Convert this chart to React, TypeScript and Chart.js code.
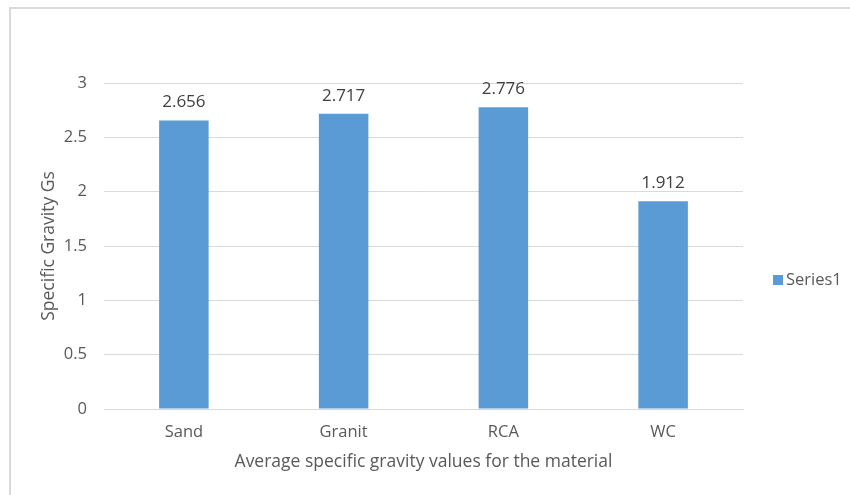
import React, { useEffect, useRef } from "react";
import { Chart, registerables } from "chart.js";

Chart.register(...registerables);

const categories = ["Sand", "Granit", "RCA", "WC"];
const series1 = [2.656, 2.717, 2.776, 1.912];
const seriesName = "Series1";
const yTickValues = [0, 0.5, 1, 1.5, 2, 2.5, 3];
const yTickLabels = ["0", "0.5", "1", "1.5", "2", "2.5", "3"];
const xTitle = "Average specific gravity values for the material";
const yTitle = "Specific Gravity Gs";

const FONT = "'Open Sans', 'Liberation Sans', sans-serif";
const BAR = "#5B9BD5";
const TEXT = "#595959";

// Value labels printed above each bar
const valueLabels = {
  id: "valueLabels",
  afterDatasetsDraw(chart: any) {
    const { ctx } = chart;
    const meta = chart.getDatasetMeta(0);
    const data = chart.data.datasets[0].data as number[];
    ctx.save();
    ctx.font = `17px ${FONT}`;
    ctx.fillStyle = "#404040";
    ctx.textAlign = "center";
    ctx.textBaseline = "middle";
    meta.data.forEach((bar: any, i: number) => {
      ctx.fillText(data[i].toFixed(3), bar.x, bar.y - 18);
    });
    ctx.restore();
  },
};

// Legend drawn to the right of the plot area
const sideLegend = {
  id: "sideLegend",
  afterDraw(chart: any) {
    const { ctx, chartArea } = chart;
    const ds = chart.data.datasets[0];
    const x = chartArea.right + 30;
    const y = 280;
    ctx.save();
    ctx.fillStyle = ds.backgroundColor;
    ctx.fillRect(x, y - 5, 10, 10);
    ctx.font = `16.5px ${FONT}`;
    ctx.fillStyle = TEXT;
    ctx.textAlign = "left";
    ctx.textBaseline = "middle";
    ctx.fillText(ds.label, x + 13, y);
    ctx.restore();
  },
};

export default function App() {
  const ref = useRef<HTMLCanvasElement | null>(null);

  useEffect(() => {
    if (!ref.current) return;
    const chart = new Chart(ref.current, {
      type: "bar",
      data: {
        labels: categories,
        datasets: [
          {
            label: seriesName,
            data: series1,
            backgroundColor: BAR,
            barPercentage: 0.31,
            categoryPercentage: 1,
          },
        ],
      },
      options: {
        animation: false,
        responsive: false,
        maintainAspectRatio: false,
        layout: { padding: { left: 35, right: 107, top: 83, bottom: 18 } },
        plugins: {
          legend: { display: false },
          tooltip: { enabled: false },
        },
        scales: {
          x: {
            afterFit: (s: any) => {
              s.height = 68;
            },
            grid: { display: false, drawTicks: false },
            border: { display: true, color: "#d9d9d9", width: 1 },
            ticks: { color: TEXT, font: { family: FONT, size: 16.5 }, padding: 13 },
            title: {
              display: true,
              text: xTitle,
              color: TEXT,
              font: { family: FONT, size: 17.5 },
            },
          },
          y: {
            min: 0,
            max: 3,
            afterFit: (s: any) => {
              s.width = 69;
            },
            afterBuildTicks: (s: any) => {
              s.ticks = yTickValues.map((v) => ({ value: v }));
            },
            grid: { color: "#d9d9d9", drawTicks: false },
            border: { display: false },
            ticks: {
              color: TEXT,
              font: { family: FONT, size: 16.5 },
              padding: 17,
              callback: (v: any) => yTickLabels[yTickValues.indexOf(Number(v))] ?? "",
            },
            title: {
              display: true,
              text: yTitle,
              color: TEXT,
              font: { family: FONT, size: 17.5 },
            },
          },
        },
      },
      plugins: [valueLabels, sideLegend],
    });
    return () => chart.destroy();
  }, []);

  return (
    <div style={{ position: "fixed", left: 0, top: 0, width: 850, height: 495, background: "#fff" }}>
      <div
        style={{
          position: "absolute",
          left: 9,
          top: 7,
          width: 841,
          height: 488,
          borderTop: "2px solid #d9d9d9",
          borderLeft: "2px solid #d9d9d9",
        }}
      />
      <canvas ref={ref} width={850} height={495} style={{ position: "absolute", left: 0, top: 0 }} />
    </div>
  );
}
